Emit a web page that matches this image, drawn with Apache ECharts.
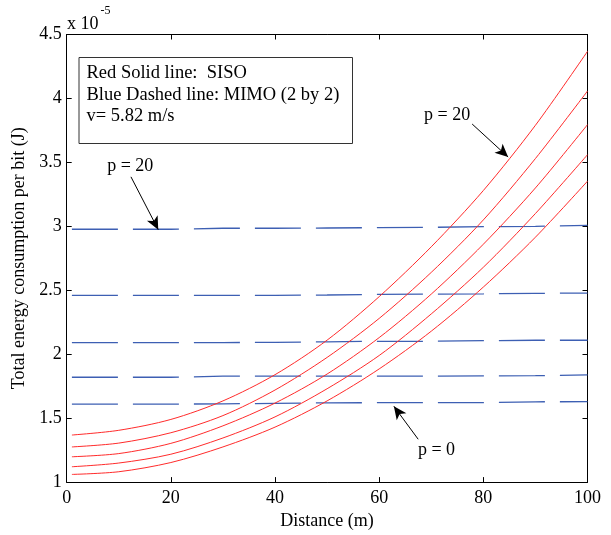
<!DOCTYPE html>
<html>
<head>
<meta charset="utf-8">
<script src="https://cdn.jsdelivr.net/npm/echarts@6/dist/echarts.min.js"></script>
<style>
html,body{margin:0;padding:0;background:#fff;}
#chart{width:611px;height:535px;}
</style>
</head>
<body>
<div id="chart"></div>
<script>
// ---- data (energy in units of 1e-5 J) ----
const distance = [1, 10, 20, 30, 40, 50, 60, 70, 80, 90, 100];
const sisoP20 = [1.368, 1.405, 1.490, 1.635, 1.840, 2.110, 2.450, 2.840, 3.280, 3.790, 4.368];
const sisoP15 = [1.275, 1.305, 1.386, 1.520, 1.720, 1.975, 2.280, 2.640, 3.050, 3.530, 4.058];
const sisoP10 = [1.198, 1.223, 1.303, 1.440, 1.618, 1.845, 2.130, 2.470, 2.860, 3.300, 3.795];
const sisoP5  = [1.120, 1.149, 1.218, 1.345, 1.510, 1.730, 1.990, 2.315, 2.680, 3.100, 3.560];
const sisoP0  = [1.060, 1.081, 1.153, 1.275, 1.430, 1.635, 1.885, 2.180, 2.525, 2.915, 3.353];

const mimoP20 = [2.977, 2.977, 2.977, 2.985, 2.985, 2.987, 2.990, 2.992, 2.997, 3.000, 3.008];
const mimoP15 = [2.460, 2.460, 2.460, 2.460, 2.460, 2.463, 2.468, 2.470, 2.472, 2.476, 2.478];
const mimoP10 = [2.091, 2.091, 2.091, 2.091, 2.093, 2.097, 2.101, 2.101, 2.106, 2.109, 2.109];
const mimoP5  = [1.820, 1.820, 1.820, 1.828, 1.828, 1.828, 1.828, 1.828, 1.830, 1.832, 1.838];
const mimoP0  = [1.610, 1.610, 1.610, 1.612, 1.615, 1.620, 1.621, 1.621, 1.621, 1.628, 1.629];

const xTicks = [0, 20, 40, 60, 80, 100];
const yTicks = [1, 1.5, 2, 2.5, 3, 3.5, 4, 4.5];

const legendLines = ['Red Solid line:  SISO', 'Blue Dashed line: MIMO (2 by 2)', 'v= 5.82 m/s'];
// annotation anchors in data coordinates
const arrows = [
  {from: [12.34, 3.387], to: [17.58, 2.974]},
  {from: [77.85, 3.800], to: [84.76, 3.542]},
  {from: [67.49, 1.335], to: [62.82, 1.593]}
];
const labels = [
  {text: 'p = 20', at: [12.2, 3.471]},
  {text: 'p = 20', at: [73.05, 3.866]},
  {text: 'p = 0', at: [71.0, 1.252]}
];

const FONT = 'Liberation Serif';
const pairs = (xs, ys) => xs.map((x, i) => [x, ys[i]]);

const chart = echarts.init(document.getElementById('chart'), null, {renderer: 'canvas'});

const red = '#ff2b2b';
const blue = '#3d5fb3';
const redSeries = [sisoP20, sisoP15, sisoP10, sisoP5, sisoP0].map((d, i) => ({
  type: 'line', name: 'SISO' + i, data: pairs(distance, d), showSymbol: false, symbol: 'none',
  smooth: 0.3, lineStyle: {color: red, width: 1}, z: 3
}));
const blueSeries = [mimoP20, mimoP15, mimoP10, mimoP5, mimoP0].map((d, i) => ({
  type: 'line', name: 'MIMO' + i, data: pairs(distance, d), showSymbol: false, symbol: 'none',
  lineStyle: {color: blue, width: 1.3, type: [46, 15]}, z: 2
}));

const arrowSeries = {
  type: 'line', data: [], silent: true,
  markLine: {
    silent: true, animation: false,
    symbol: ['none', 'arrow'], symbolSize: [9, 13],
    lineStyle: {color: '#000', width: 1, type: 'solid'},
    label: {show: false},
    data: arrows.map(a => [{coord: a.from}, {coord: a.to}])
  }
};

const axisCommon = {
  axisLine: {show: true, onZero: false, lineStyle: {color: '#000', width: 1}},
  axisTick: {show: true, inside: true, length: 5, lineStyle: {color: '#000', width: 1}},
  splitLine: {show: false}
};

chart.setOption({
  animation: false,
  backgroundColor: '#fff',
  grid: {left: 66.7, right: 23.5, top: 34.5, bottom: 48.5, containLabel: false},
  xAxis: [
    Object.assign({}, axisCommon, {
      type: 'value', min: 0, max: 100, interval: 20, position: 'bottom',
      name: 'Distance (m)', nameLocation: 'middle', nameGap: 29,
      nameTextStyle: {fontFamily: FONT, fontSize: 18, color: '#000'},
      axisLabel: {fontFamily: FONT, fontSize: 18, color: '#000', margin: 7,
        formatter: v => xTicks.includes(v) ? String(v) : ''}
    }),
    Object.assign({}, axisCommon, {
      type: 'value', min: 0, max: 100, interval: 20, position: 'top',
      axisLabel: {show: false}
    })
  ],
  yAxis: [
    Object.assign({}, axisCommon, {
      type: 'value', min: 1, max: 4.5, interval: 0.5, position: 'left',
      name: 'Total energy consumption per bit (J)', nameLocation: 'middle', nameGap: 38,
      nameTextStyle: {fontFamily: FONT, fontSize: 18, color: '#000'},
      axisLabel: {fontFamily: FONT, fontSize: 18, color: '#000', margin: 5,
        formatter: v => yTicks.includes(v) ? String(v) : ''}
    }),
    Object.assign({}, axisCommon, {
      type: 'value', min: 1, max: 4.5, interval: 0.5, position: 'right',
      axisLabel: {show: false}
    })
  ],
  series: redSeries.concat(blueSeries).concat([arrowSeries])
});

// annotations positioned through the axes
const gfx = [];
labels.forEach(l => {
  const p = chart.convertToPixel({xAxisIndex: 0, yAxisIndex: 0}, l.at);
  gfx.push({type: 'text', x: p[0], y: p[1], z: 10,
    style: {text: l.text, font: '18px ' + FONT, fill: '#000', align: 'center', verticalAlign: 'middle'}});
});
// legend box
gfx.push({type: 'rect', shape: {x: 79, y: 57.5, width: 273.5, height: 86}, z: 9,
  style: {fill: '#fff', stroke: '#333', lineWidth: 1}});
legendLines.forEach((t, i) => {
  gfx.push({type: 'text', x: 86.5, y: 73.5 + i * 21.5, z: 10,
    style: {text: t, font: '18.5px ' + FONT, fill: '#000', align: 'left', verticalAlign: 'middle'}});
});
// exponent
gfx.push({type: 'text', x: 67, y: 24, z: 10,
  style: {text: 'x 10', font: '18px ' + FONT, fill: '#000', align: 'left', verticalAlign: 'middle'}});
gfx.push({type: 'text', x: 100.5, y: 11, z: 10,
  style: {text: '-5', font: '12px ' + FONT, fill: '#000', align: 'left', verticalAlign: 'middle'}});
chart.setOption({graphic: gfx});
</script>
</body>
</html>
